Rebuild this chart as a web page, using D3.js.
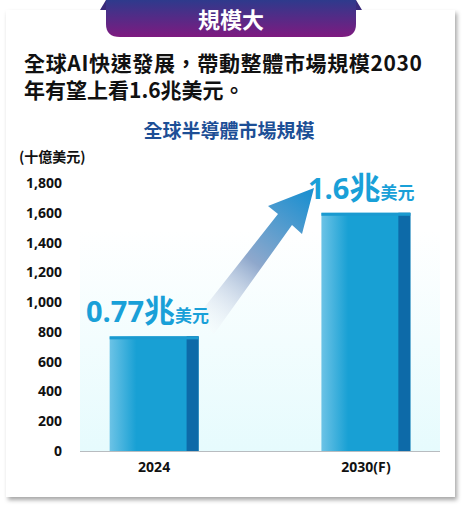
<!DOCTYPE html><html><head><meta charset="utf-8">
<script src="https://cdn.jsdelivr.net/npm/d3@7"></script>
<style>body{margin:0;background:#fff}svg{display:block;font-family:"Noto Sans CJK TC","Noto Sans",sans-serif}</style></head><body>
<svg id="c" width="466" height="510"></svg>
<script>
const categories=["2024","2030(F)"];
const values=[770,1600];
const valueLabels=["0.77","1.6"];
const ticks=[0,200,400,600,800,1000,1200,1400,1600,1800];
const svg=d3.select("#c");
const defs=svg.append("defs");
const sh=defs.append("filter").attr("id","sh").attr("x","-5%").attr("y","-5%").attr("width","110%").attr("height","110%");
sh.append("feDropShadow").attr("dx",2).attr("dy",3).attr("stdDeviation",2).attr("flood-color","#000").attr("flood-opacity",0.35);
const hg=defs.append("linearGradient").attr("id","hg").attr("x1",0).attr("y1",0).attr("x2",0).attr("y2",1);
hg.append("stop").attr("offset",0).attr("stop-color","#2e3a8c");hg.append("stop").attr("offset",1).attr("stop-color","#7e1a80");
const bg=defs.append("linearGradient").attr("id","bg").attr("x1",0).attr("y1",0).attr("x2",0).attr("y2",1);
bg.append("stop").attr("offset",0).attr("stop-color","#fff");bg.append("stop").attr("offset",1).attr("stop-color","#e6fbfd");
const bar=defs.append("linearGradient").attr("id","bar").attr("x1",0).attr("y1",0).attr("x2",1).attr("y2",0);
bar.append("stop").attr("offset",0).attr("stop-color","#6cc3e6");bar.append("stop").attr("offset",0.3).attr("stop-color","#18a0d4");bar.append("stop").attr("offset",1).attr("stop-color","#18a0d4");
const ag=defs.append("linearGradient").attr("id","ag").attr("gradientUnits","userSpaceOnUse").attr("x1",205).attr("y1",335).attr("x2",310).attr("y2",195);
ag.append("stop").attr("offset",0).attr("stop-color","#fff").attr("stop-opacity",0.2);ag.append("stop").attr("offset",0.5).attr("stop-color","#8fa8cc");ag.append("stop").attr("offset",1).attr("stop-color","#1e90d0");

svg.append("rect").attr("x",6).attr("y",10).attr("width",449).attr("height",487).attr("fill","#fff").attr("filter","url(#sh)");
svg.append("path").attr("d","M100,10 L106,0 L356,0 L362,10 Z").attr("fill","#3a2a7a");
svg.append("path").attr("d","M106,0 H356 V24 Q356,37 342,37 H120 Q106,37 106,24 Z").attr("fill","url(#hg)");
svg.append("text").attr("x",231).attr("y",28).attr("text-anchor","middle").attr("fill","#fff").attr("font-size",22).attr("font-weight",700).text("規模大");
svg.append("text").attr("x",24).attr("y",71).attr("font-size",21).attr("font-weight",700).attr("fill","#111").attr("textLength",398).text("全球AI快速發展，帶動整體市場規模2030");
svg.append("text").attr("x",24).attr("y",98).attr("font-size",21).attr("font-weight",700).attr("fill","#111").text("年有望上看1.6兆美元。");
svg.append("text").attr("x",229).attr("y",138).attr("text-anchor","middle").attr("font-size",19).attr("font-weight",700).attr("fill","#1d4f96").text("全球半導體市場規模");
svg.append("text").attr("x",19).attr("y",162).attr("font-size",14).attr("font-weight",700).attr("fill","#111").text("(十億美元)");

const y=d3.scaleLinear().domain([0,1800]).range([451,183]);
const x=d3.scaleBand().domain(categories).range([80,440]).paddingInner(0.58).paddingOuter(0.14);
svg.append("rect").attr("x",80).attr("y",230).attr("width",360).attr("height",221).attr("fill","url(#bg)");
svg.append("line").attr("x1",80).attr("x2",440).attr("y1",451.5).attr("y2",451.5).attr("stroke","#b8bcc0").attr("stroke-width",1);

const ya=svg.append("g").attr("transform","translate(62,0)").call(d3.axisLeft(y).tickValues(ticks).tickSize(0).tickPadding(0).tickFormat(d3.format(",")));
ya.select(".domain").remove();
ya.selectAll("text").attr("font-size",14).attr("font-weight",700).attr("fill","#111").attr("font-family","'Noto Sans',sans-serif");
const xa=svg.append("g").attr("transform","translate(0,452)").call(d3.axisBottom(x).tickSize(0).tickPadding(10));
xa.select(".domain").remove();
xa.selectAll("text").attr("font-size",14).attr("font-weight",700).attr("fill","#111").attr("font-family","'Noto Sans',sans-serif");

const g=svg.selectAll(".b").data(values).enter().append("g");
g.append("rect").attr("x",(d,i)=>x(categories[i])).attr("y",d=>y(d)).attr("width",x.bandwidth()).attr("height",d=>451-y(d)).attr("fill","url(#bar)");
g.append("rect").attr("x",(d,i)=>x(categories[i])+x.bandwidth()-12).attr("y",d=>y(d)).attr("width",12).attr("height",d=>451-y(d)).attr("fill","#0d6aa8");
g.append("rect").attr("x",(d,i)=>x(categories[i])).attr("y",d=>y(d)).attr("width",x.bandwidth()).attr("height",3).attr("fill","#1a9ad0");

svg.append("path").attr("d","M196,318 L278,214 L268,206 L314,188 L302,234 L292,225 L214,334 Z").attr("fill","url(#ag)");

const lab=svg.selectAll(".l").data(values).enter().append("text").attr("fill","#19a0d8").attr("font-weight",700)
 .attr("x",(d,i)=>i?308:86).attr("y",d=>y(d)-14);
lab.append("tspan").attr("font-size",29).attr("font-family","'Open Sans','Noto Sans',sans-serif").text((d,i)=>valueLabels[i]);
lab.append("tspan").attr("font-size",31).text("兆");
lab.append("tspan").attr("font-size",17).text("美元");
</script></body></html>
